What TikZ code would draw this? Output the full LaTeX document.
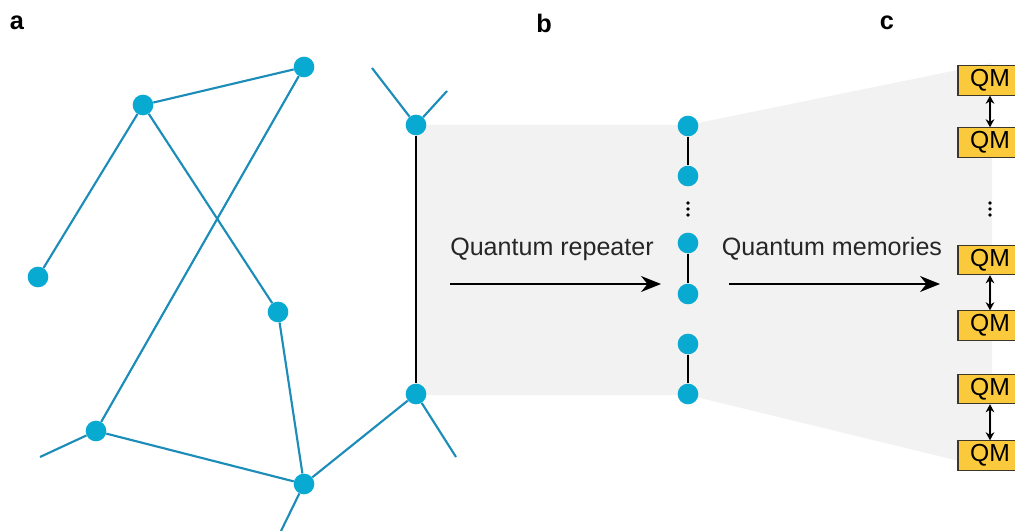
\documentclass[tikz,border=0pt]{standalone}
\usepackage{fontspec}
\setmainfont{Liberation Sans}
\usetikzlibrary{arrows.meta}
\definecolor{nodeblue}{RGB}{8,170,210}
\definecolor{edgeblue}{RGB}{28,140,185}
\definecolor{bggray}{RGB}{242,242,242}
\definecolor{qmyellow}{RGB}{250,202,60}
\definecolor{qmborder}{RGB}{60,55,40}
\begin{document}
\begin{tikzpicture}[x=0.75pt,y=-0.75pt,
  dot/.style={circle,fill=nodeblue,draw=none,minimum size=15.5pt,inner sep=0pt},
  link/.style={draw=edgeblue,line width=1.6pt},
  chain/.style={draw=black,line width=1.8pt},
  qm/.style={rectangle,fill=qmyellow,draw=qmborder,line width=0.9pt,minimum width=48pt,minimum height=22pt,inner sep=0pt,font=\fontsize{18.5}{22}\selectfont},
  bigarrow/.style={draw=black,line width=1.2pt,-{Stealth[length=15pt,width=12pt]}},
  dbl/.style={draw=black,line width=1.5pt,{Stealth[length=6pt,width=6.5pt]}-{Stealth[length=6pt,width=6.5pt]}},
  lbl/.style={font=\fontsize{19}{22}\selectfont\bfseries},
  txt/.style={font=\fontsize{18.8}{22}\selectfont,text=black!85}]
\useasboundingbox (0,0) rectangle (1015,531);
% gray background
\fill[bggray] (416,125) -- (688,125) -- (992,63) -- (992,469) -- (688,395) -- (416,395) -- cycle;
% panel labels
\node[lbl] (la) at (17,23) {a};
\node[lbl] (lb) at (544,23) {b};
\node[lbl] (lc) at (887,23) {c};
% panel a nodes
\node[dot] (A1) at (143,105) {};
\node[dot] (A2) at (304,67) {};
\node[dot] (A3) at (38,277) {};
\node[dot] (A4) at (278,312) {};
\node[dot] (A5) at (96,431) {};
\node[dot] (A6) at (304,484) {};
\node[dot] (B1) at (416,125) {};
\node[dot] (B2) at (416,394) {};
\coordinate (f1) at (40,457);
\coordinate (f2) at (281,531);
\coordinate (f3) at (372,68);
\coordinate (f4) at (447,91);
\coordinate (f5) at (456,457);
\path[link] (A1) -- (A2);
\path[link] (A1) -- (A3);
\path[link] (A1) -- (A4);
\path[link] (A2) -- (A5);
\path[link] (A4) -- (A6);
\path[link] (A5) -- (A6);
\path[link] (A5) -- (f1);
\path[link] (A6) -- (f2);
\path[link] (A6) -- (B2);
\path[link] (B1) -- (f3);
\path[link] (B1) -- (f4);
\path[link] (B2) -- (f5);
\path[chain] (B1) -- (B2);
% chain b
\node[dot] (C1) at (688,126) {};
\node[dot] (C2) at (688,176) {};
\node[dot] (C3) at (688,243) {};
\node[dot] (C4) at (688,294) {};
\node[dot] (C5) at (688,344) {};
\node[dot] (C6) at (688,394) {};
\path[chain] (C1) -- (C2);
\path[chain] (C3) -- (C4);
\path[chain] (C5) -- (C6);
\foreach \y in {203,209,215} \fill[black] (688,\y) circle (1.4pt);
% arrows and texts
\node[txt] (t1) at (552,249) {Quantum repeater};
\node[txt] (t2) at (832,249) {Quantum memories};
\coordinate (r1) at (450,284);
\coordinate (r2) at (661,284);
\coordinate (m1) at (729,284);
\coordinate (m2) at (940,284);
\path[bigarrow] (r1) -- (r2);
\path[bigarrow] (m1) -- (m2);
% QM boxes
\node[qm] (Q1) at (990,80.5) {QM};
\node[qm] (Q2) at (990,142.5) {QM};
\node[qm] (Q3) at (990,260) {QM};
\node[qm] (Q4) at (990,325.5) {QM};
\node[qm] (Q5) at (990,389) {QM};
\node[qm] (Q6) at (990,455.5) {QM};
\path[dbl] (Q1) -- (Q2);
\path[dbl] (Q3) -- (Q4);
\path[dbl] (Q5) -- (Q6);
\foreach \y in {203,209,215} \fill[black] (990,\y) circle (1.4pt);
\end{tikzpicture}
\end{document}
